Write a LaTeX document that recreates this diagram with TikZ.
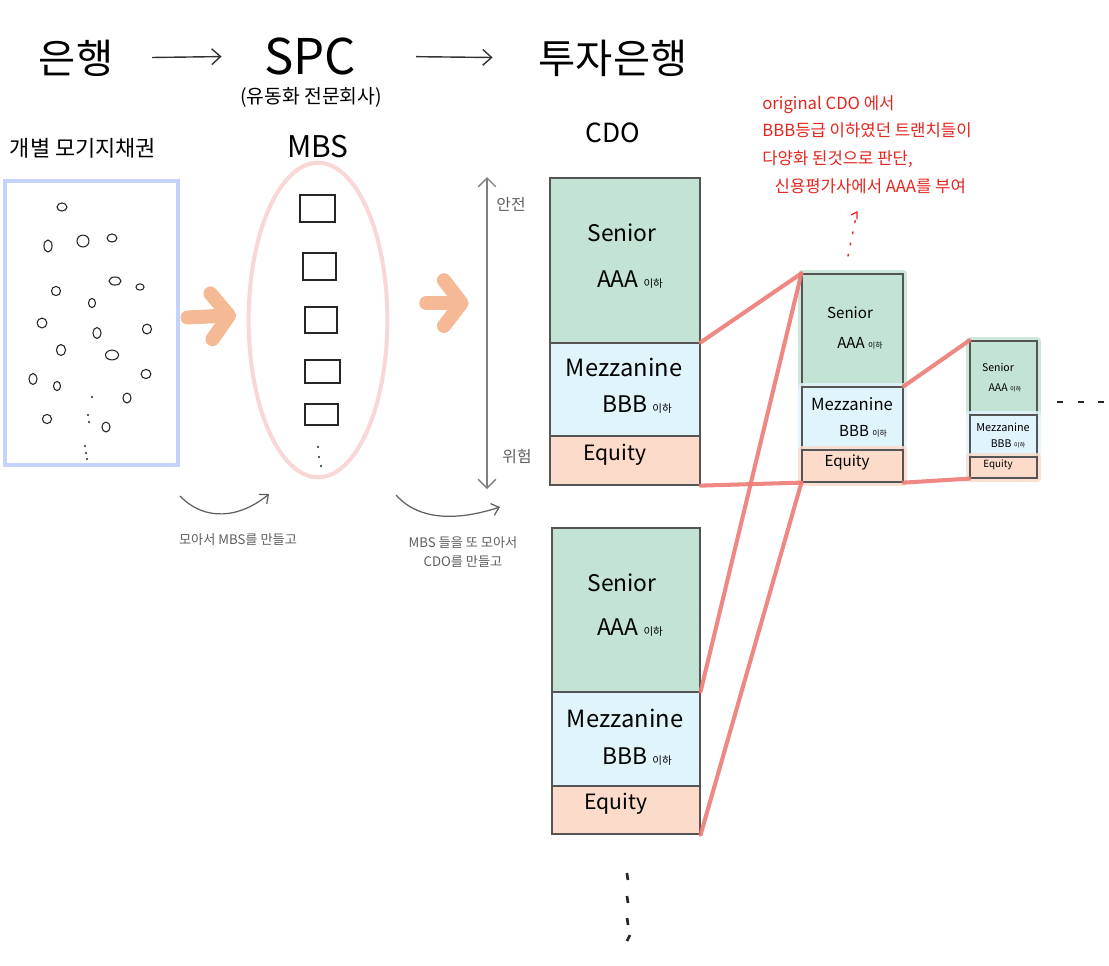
\documentclass[tikz,border=0pt]{standalone}
\usepackage{fontspec}
\setmainfont{Noto Sans CJK KR}
\definecolor{trGreen}{RGB}{195,228,212}
\definecolor{trBlue}{RGB}{224,244,252}
\definecolor{trPeach}{RGB}{252,219,203}
\definecolor{trEdge}{RGB}{85,85,85}
\definecolor{linkRed}{RGB}{238,122,117}
\definecolor{noteRed}{RGB}{228,38,32}
\definecolor{bondBlue}{RGB}{197,211,252}
\definecolor{mbsPink}{RGB}{249,215,214}
\definecolor{pushOrange}{RGB}{245,185,150}
\definecolor{capGray}{RGB}{95,95,95}
\definecolor{axisGray}{RGB}{128,128,128}
\usetikzlibrary{arrows.meta,positioning,fit,shapes.geometric}

\newcommand{\fs}[1]{\fontsize{#1}{#1}\selectfont}
\newcommand{\iha}[1]{{\fontsize{#1}{#1}\selectfont 이하}}

\tikzset{
  tranche/.style={draw=trEdge, line width=0.7pt, inner sep=0pt},
  sen/.style={tranche, fill=trGreen},
  mez/.style={tranche, fill=trBlue},
  eqt/.style={tranche, fill=trPeach},
  glow/.style={preaction={draw=#1, line width=5pt, line join=round, opacity=0.85}},
  link/.style={draw=linkRed, line width=2.3pt, line cap=round, opacity=0.9},
  push/.style={draw=pushOrange, line width=8pt, line cap=round,
    -{Straight Barb[round, length=10pt, width=26pt]}},
  flow/.style={draw=black!80, line width=0.8pt, -{Straight Barb[length=5pt, width=9pt]}},
  swoop/.style={draw=capGray, line width=0.7pt, -{Straight Barb[length=4pt, width=7pt]}},
  bean/.style={draw=black!85, line width=0.6pt},
  lbl/.style={inner sep=0pt, text=black}
}

\begin{document}
\begin{tikzpicture}[x=0.02cm, y=-0.02cm]
    \useasboundingbox (0,0) rectangle (1109,965);
    \fill[white] (0,0) rectangle (1109,965);

    % top row
    \node[lbl, font=\fs{23}] (bank) at (76,58) {은행};
    \node[lbl, font=\fs{28}] (spc) at (310,56) {SPC};
    \node[lbl, font=\fs{11}] (spcSub) at (311,97) {(유동화 전문회사)};
    \node[lbl, font=\fs{23}] (ib) at (613,58) {투자은행};
    \draw[flow, shorten <=22pt, shorten >=24pt] (bank.east) -- (spc.west);
    \draw[flow, shorten <=34pt, shorten >=26pt] (spc.east) -- (ib.west);

    \node[lbl, font=\fs{12.5}] (bondsT) at (83,148) {개별 모기지채권};
    \node[lbl, font=\fs{17}] (mbsT) at (318,147) {MBS};
    \node[lbl, font=\fs{15}] (cdoT) at (613,133) {CDO};

    % mortgages
    \node[draw=bondBlue, line width=2.8pt, inner sep=0pt, fit={(5,181)(178,465)}] (bonds) {};
    \foreach \x/\y/\a/\b in {62/207/2.8/2.3, 48/246/2.3/3.4, 83/241/3.4/3.4, 112/238/2.8/2.3,
        115/281/3.4/2.3, 140/287/2.3/1.8, 56/291/2.6/2.6, 92/303/2/2.6, 42/323/2.8/2.8,
        97/333/2.3/3.1, 147/329/2.6/2.8, 61/350/2.6/3.1, 112/355/3.7/2.8, 33/379/2.3/3.1,
        57/386/2/2.6, 146/374/2.8/2.6, 127/398/2.3/2.8, 47/419/2.6/2.6, 106/427/2.3/2.8}
        \draw[bean] (\x,\y) ellipse [x radius=\a pt, y radius=\b pt];
    \foreach \x/\y in {92/397, 88/415, 89/422, 85/446, 86/453, 87/459}
        \fill[black!85] (\x,\y) circle (0.6pt);

    % MBS pool
    \node[ellipse, draw=mbsPink, line width=2.3pt, minimum width=79pt, minimum height=179pt,
        inner sep=0pt] (mbs) at (318,320) {};
    \foreach \xa/\ya/\xb/\yb in {300/195/335/222, 303/253/336/280, 305/307/337/333,
        305/360/340/383, 305/404/338/425}
        \draw[bean, line width=0.75pt] (\xa,\ya) rectangle (\xb,\yb);
    \foreach \x/\y in {318/447, 319/457, 321/466}
        \fill[black!85] (\x,\y) circle (0.6pt);

    % CDO no.1
    \node[sen, fit={(550,178)(700,343)}] (aSen) {};
    \node[mez, fit={(550,343)(700,436)}] (aMez) {};
    \node[eqt, fit={(550,436)(700,485)}] (aEq) {};
    \node[lbl, font=\fs{13}] (aSenT) at (622,233) {Senior};
    \node[lbl, font=\fs{13}] (aSenR) at (630,280) {AAA \iha{6}};
    \node[lbl, font=\fs{13.5}] (aMezT) at (624,367) {Mezzanine};
    \node[lbl, font=\fs{13}] (aMezR) at (637,405) {BBB \iha{6}};
    \node[lbl, font=\fs{12}] (aEqT) at (615,455) {Equity};

    % CDO no.2
    \node[sen, fit={(552,528)(700,692)}] (bSen) {};
    \node[mez, fit={(552,692)(700,786)}] (bMez) {};
    \node[eqt, fit={(552,786)(700,834)}] (bEq) {};
    \node[lbl, font=\fs{13}] (bSenT) at (622,583) {Senior};
    \node[lbl, font=\fs{13}] (bSenR) at (630,628) {AAA \iha{6}};
    \node[lbl, font=\fs{13.5}] (bMezT) at (625,718) {Mezzanine};
    \node[lbl, font=\fs{13}] (bMezR) at (637,757) {BBB \iha{6}};
    \node[lbl, font=\fs{12}] (bEqT) at (616,804) {Equity};

    % CDO squared
    \node[sen, glow=trGreen, fit={(802,274)(903,387)}] (cSen) {};
    \node[mez, glow=trBlue, fit={(802,387)(903,450)}] (cMez) {};
    \node[eqt, glow=trPeach, fit={(802,450)(903,482)}] (cEq) {};
    \node[lbl, font=\fs{8.6}] (cSenT) at (850,313) {Senior};
    \node[lbl, font=\fs{8.6}] (cSenR) at (860,343) {AAA \iha{4.5}};
    \node[lbl, font=\fs{9.5}] (cMezT) at (852,404) {Mezzanine};
    \node[lbl, font=\fs{8.6}] (cMezR) at (863,431) {BBB \iha{4.5}};
    \node[lbl, font=\fs{8.6}] (cEqT) at (847,462) {Equity};

    \node[sen, glow=trGreen, fit={(970,341)(1037,415)}] (dSen) {};
    \node[mez, glow=trBlue, fit={(970,415)(1037,457)}] (dMez) {};
    \node[eqt, glow=trPeach, fit={(970,457)(1037,478)}] (dEq) {};
    \node[lbl, font=\fs{6}] (dSenT) at (998,367) {Senior};
    \node[lbl, font=\fs{6}] (dSenR) at (1005,388) {AAA \iha{3.5}};
    \node[lbl, font=\fs{6.2}] (dMezT) at (1003,427) {Mezzanine};
    \node[lbl, font=\fs{6}] (dMezR) at (1008,444) {BBB \iha{3.5}};
    \node[lbl, font=\fs{5.6}] (dEqT) at (998,465) {Equity};

    % re-tranching links
    \draw[link] (aMez.north east) -- (cSen.north west);
    \draw[link] (aEq.south east) -- (cEq.south west);
    \draw[link] (bMez.north east) -- (cSen.north west);
    \draw[link] (bEq.south east) -- (cEq.south west);
    \draw[link] (cMez.north east) -- (dSen.north west);
    \draw[link] (cEq.south east) -- (dEq.south west);

    % pooling arrows
    \draw[push, shorten <=4pt, shorten >=6pt] ([yshift=3pt]bonds.east) -- ([yshift=3pt]mbs.west);
    \draw[push, shorten <=21pt, shorten >=46pt] ([yshift=9.6pt]mbs.east) -- ([yshift=9.6pt]mbs.east -| aMez.west);

    \coordinate (c1a) at (180,496);
    \coordinate (c1b) at (269,494);
    \draw[swoop] (c1a) .. controls (205,522) and (240,518) .. (c1b);
    \node[lbl, text=capGray, font=\fs{7.5}] (cap1) at (238,540) {모아서 MBS를 만들고};
    \coordinate (c2a) at (396,495);
    \coordinate (c2b) at (500,507);
    \draw[swoop] (c2a) .. controls (420,522) and (460,520) .. (c2b);
    \node[lbl, text=capGray, font=\fs{7.5}, align=center] (cap2) at (463,552)
        {MBS 들을 또 모아서\\[3pt]CDO를 만들고};

    % safety axis
    \coordinate (safeEnd) at (487,177);
    \coordinate (riskEnd) at (487,489);
    \draw[draw=axisGray, line width=0.8pt, {Straight Barb[length=5pt, width=10pt]}-{Straight Barb[length=5pt, width=10pt]}]
        (safeEnd) -- (riskEnd);
    \node[lbl, text=capGray, font=\fs{9}] (safeT) at (511,204) {안전};
    \node[lbl, text=capGray, font=\fs{9}] (riskT) at (517,457) {위험};

    % rating note
    \node[lbl, text=noteRed, anchor=north west, align=left,
        font=\fontsize{9.5}{15.8}\selectfont] (note) at (762,95)
        {original CDO 에서\\BBB등급 이하였던 트랜치들이\\다양화 된것으로 판단,\\\hspace*{7pt}신용평가사에서 AAA를 부여};
    \coordinate (noteFoot) at (848,256);
    \coordinate (noteTip) at (857,212);
    \draw[noteRed, line width=0.8pt, dash pattern=on 1pt off 5.5pt, line cap=round] (noteFoot) -- (noteTip);
    \draw[noteRed, line width=0.7pt] (851,215) -- (857,212) -- (857,219);

    % more to come
    \draw[black!85, line width=1.3pt, dash pattern=on 3.4pt off 8.3pt] (1057,402) -- (1109,402);
    \foreach \y in {873, 896, 918}
        \draw[black!85, line width=1.5pt] (624+\y/300,\y) -- (625+\y/300,\y+7);
    \draw[black!85, line width=1.5pt] (630,935) -- (627,941);
\end{tikzpicture}
\end{document}
